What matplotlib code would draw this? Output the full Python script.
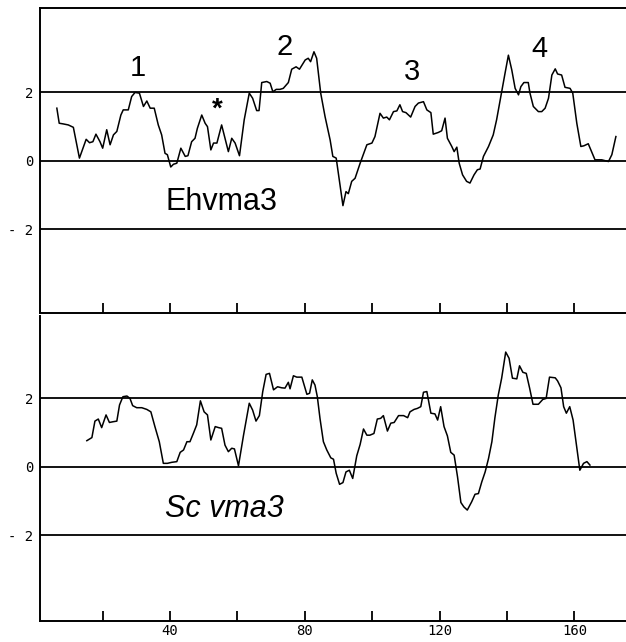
import numpy as np
import matplotlib.pyplot as plt

plt.rcParams.update({'font.family': 'Liberation Sans'})

# Ehvma3 hydropathy profile (residue, value)
top_res = [6.4, 7.1, 8.3, 9.8, 11.3, 13.1, 15.1, 16.1, 17.1, 18.0,
           19.2, 20.0, 21.2, 22.2, 23.2, 24.2, 25.4, 26.1, 27.6, 28.6,
           29.6, 30.9, 32.1, 33.1, 34.1, 35.3, 36.5, 37.5, 38.5, 39.2,
           40.2, 41.0, 42.0, 43.2, 44.5, 45.3, 46.4, 47.4, 48.1, 49.4,
           50.4, 51.1, 52.1, 52.9, 53.9, 55.3, 57.3, 58.3, 59.3, 60.6,
           62.0, 63.5, 64.5, 65.7, 66.4, 67.2, 68.7, 69.7, 70.5, 71.5,
           72.6, 73.6, 75.1, 76.1, 77.4, 78.4, 80.1, 81.0, 81.7, 82.7,
           83.5, 84.7, 86.0, 87.5, 88.3, 89.3, 91.3, 92.2, 92.9, 93.9,
           94.9, 96.4, 98.4, 99.9, 100.8, 102.3, 103.3, 104.3, 105.1, 106.3,
           107.3, 108.2, 109.0, 110.0, 111.4, 112.7, 113.7, 115.2, 116.2, 117.4,
           118.1, 119.6, 120.6, 121.6, 122.3, 123.6, 124.3, 125.1, 125.8, 126.8,
           128.0, 129.0, 130.2, 131.2, 132.0, 133.0, 134.5, 135.9, 136.9, 138.4,
           139.4, 140.4, 141.4, 142.4, 143.4, 144.1, 145.0, 146.3, 146.8, 147.8,
           149.3, 150.3, 151.3, 152.3, 153.3, 154.3, 155.0, 156.2, 157.2, 158.7,
           159.5, 160.7, 161.9, 162.8, 164.1, 166.1, 168.1, 170.1, 171.1, 172.3]
top_val = [1.54, 1.10, 1.08, 1.05, 0.98, 0.08, 0.63, 0.53, 0.56, 0.78,
           0.56, 0.37, 0.91, 0.47, 0.76, 0.86, 1.34, 1.49, 1.49, 1.88,
           2.00, 1.98, 1.59, 1.75, 1.54, 1.54, 1.05, 0.76, 0.22, 0.18,
           -0.18, -0.10, -0.07, 0.37, 0.13, 0.15, 0.56, 0.66, 0.95, 1.34,
           1.10, 1.00, 0.32, 0.52, 0.52, 1.05, 0.27, 0.66, 0.52, 0.15,
           1.20, 1.98, 1.83, 1.47, 1.47, 2.29, 2.32, 2.27, 2.02, 2.09,
           2.09, 2.12, 2.29, 2.68, 2.75, 2.68, 2.95, 3.00, 2.90, 3.19,
           3.00, 1.98, 1.29, 0.61, 0.13, 0.08, -1.31, -0.90, -0.96, -0.60,
           -0.51, -0.07, 0.47, 0.52, 0.71, 1.39, 1.25, 1.28, 1.20, 1.44,
           1.46, 1.64, 1.44, 1.41, 1.28, 1.59, 1.69, 1.73, 1.49, 1.41,
           0.78, 0.83, 0.88, 1.25, 0.66, 0.42, 0.27, 0.40, -0.07, -0.41,
           -0.60, -0.65, -0.41, -0.26, -0.24, 0.13, 0.42, 0.76, 1.20, 2.02,
           2.56, 3.09, 2.66, 2.12, 1.93, 2.17, 2.29, 2.29, 1.98, 1.59,
           1.44, 1.44, 1.54, 1.83, 2.51, 2.69, 2.54, 2.51, 2.15, 2.12,
           1.98, 1.10, 0.42, 0.44, 0.50, 0.03, 0.03, -0.02, 0.18, 0.71]

# Sc vma3 hydropathy profile (residue, value)
bot_res = [15.3, 16.8, 17.7, 18.7, 19.7, 21.0, 22.0, 23.0, 24.2, 25.0,
           26.0, 27.2, 28.1, 28.9, 30.1, 31.6, 33.1, 34.3, 35.5, 36.8,
           38.0, 39.2, 40.5, 42.0, 43.0, 44.0, 45.0, 45.9, 46.9, 47.9,
           49.0, 50.1, 51.1, 52.1, 53.4, 54.4, 55.3, 56.3, 57.3, 58.3,
           59.1, 60.3, 61.8, 63.5, 64.5, 65.5, 66.5, 67.5, 68.5, 69.5,
           70.7, 71.9, 73.1, 74.1, 75.1, 75.6, 76.6, 77.6, 79.1, 80.6,
           81.4, 82.2, 83.0, 83.7, 84.5, 85.5, 86.5, 87.7, 88.5, 89.3,
           90.3, 91.3, 92.2, 93.2, 94.2, 95.4, 96.4, 97.4, 98.4, 99.3,
           100.5, 101.5, 102.5, 103.3, 104.5, 105.5, 106.5, 107.8, 109.3, 110.5,
           111.2, 112.4, 113.4, 114.4, 115.2, 116.2, 117.4, 118.6, 119.4, 120.3,
           121.3, 122.3, 123.3, 124.3, 125.3, 126.3, 127.2, 128.2, 129.5, 130.5,
           131.5, 132.5, 133.5, 134.5, 135.5, 136.4, 137.4, 138.4, 139.6, 140.6,
           141.6, 142.9, 143.7, 144.7, 145.7, 146.7, 147.7, 149.3, 150.6, 151.6,
           152.6, 154.3, 155.0, 156.0, 156.8, 157.6, 158.6, 159.6, 160.6, 161.6,
           162.7, 163.7, 164.6]
bot_val = [0.76, 0.85, 1.33, 1.39, 1.14, 1.51, 1.29, 1.31, 1.33, 1.80,
           2.04, 2.06, 1.99, 1.78, 1.72, 1.72, 1.67, 1.60, 1.17, 0.73,
           0.10, 0.10, 0.13, 0.15, 0.42, 0.49, 0.73, 0.73, 0.97, 1.22,
           1.92, 1.60, 1.51, 0.78, 1.17, 1.14, 1.12, 0.63, 0.44, 0.54,
           0.52, 0.03, 0.92, 1.85, 1.65, 1.33, 1.49, 2.19, 2.69, 2.72,
           2.24, 2.33, 2.30, 2.29, 2.46, 2.27, 2.65, 2.61, 2.61, 2.11,
           2.14, 2.53, 2.38, 2.04, 1.40, 0.73, 0.49, 0.26, 0.22, -0.19,
           -0.51, -0.46, -0.15, -0.10, -0.34, 0.32, 0.65, 1.10, 0.92, 0.92,
           0.97, 1.39, 1.41, 1.49, 1.04, 1.27, 1.29, 1.49, 1.49, 1.43,
           1.60, 1.67, 1.70, 1.75, 2.17, 2.19, 1.56, 1.54, 1.36, 1.75,
           1.17, 0.90, 0.42, 0.34, -0.29, -1.04, -1.17, -1.26, -1.02, -0.80,
           -0.78, -0.44, -0.15, 0.24, 0.73, 1.43, 2.09, 2.58, 3.34, 3.16,
           2.58, 2.56, 2.94, 2.75, 2.72, 2.29, 1.82, 1.82, 1.96, 1.99,
           2.61, 2.59, 2.50, 2.30, 1.75, 1.56, 1.75, 1.36, 0.63, -0.10,
           0.10, 0.15, 0.05]

x_ticks = [20, 40, 60, 80, 100, 120, 140, 160]
x_tick_labels = ['', '40', '', '80', '', '120', '', '160']
y_ticks = [-2, 0, 2]
y_tick_labels = ['- 2', '0', '2']

peak_names = ['1', '2', '3', '4']
peak_x = [30.5, 74.1, 111.9, 149.7]
peak_y = [2.48, 3.11, 2.35, 3.05]

W, H = 626, 642
fig = plt.figure(figsize=(W / 100, H / 100), dpi=100)
ax_top = fig.add_axes([40 / W, 1 - 313 / H, 1 - 40 / W, 305 / H])
ax_bot = fig.add_axes([40 / W, 1 - 621 / H, 1 - 40 / W, 305 / H])

tick_font = dict(family='DejaVu Sans Mono', fontsize=10)

for ax, res, val, ylim in [(ax_top, top_res, top_val, (-4.45, 4.47)),
                           (ax_bot, bot_res, bot_val, (-4.49, 4.39))]:
    for yv in y_ticks:
        ax.axhline(yv, color='black', lw=1.3, zorder=1)
    ax.plot(res, val, color='black', lw=1.1, zorder=2)
    ax.set_xlim(1.4, 175.3)
    ax.set_ylim(*ylim)
    ax.set_xticks(x_ticks)
    ax.set_yticks(y_ticks)
    ax.set_yticklabels(y_tick_labels, **tick_font)
    ax.tick_params(axis='x', direction='in', length=7, width=1.3, pad=2)
    ax.tick_params(axis='y', length=0, pad=5)
    ax.spines['right'].set_visible(False)
    for s in ax.spines.values():
        s.set_linewidth(1.4)

ax_top.set_xticklabels([''] * len(x_ticks))
ax_bot.set_xticklabels(x_tick_labels, **tick_font)
ax_bot.spines['top'].set_visible(False)

# annotations
for name, px, py in zip(peak_names, peak_x, peak_y):
    ax_top.text(px, py, name, fontsize=21, ha='center', va='baseline')
ax_top.text(53.9, 1.30, '*', fontsize=20, fontweight='bold',
            ha='center', va='baseline')
ax_top.text(55.3, -1.43, 'Ehvma3', fontsize=22, ha='center', va='baseline')
ax_bot.text(56.2, -1.46, 'Sc vma3', fontsize=22, style='italic',
            ha='center', va='baseline')

plt.savefig('out.png', dpi=100)
